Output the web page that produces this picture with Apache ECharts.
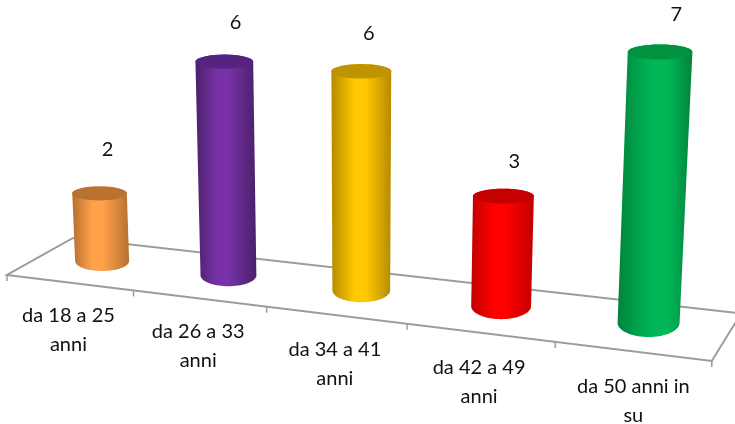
<!DOCTYPE html>
<html>
<head>
<meta charset="utf-8">
<style>html,body{margin:0;padding:0;background:#fff}#chart{width:735px;height:424px}</style>
<script src="https://cdn.jsdelivr.net/npm/echarts@6/dist/echarts.min.js"></script>
</head>
<body>
<div id="chart"></div>
<script>
// Age brackets and respondent counts
const categories = ['da 18 a 25\nanni', 'da 26 a 33\nanni', 'da 34 a 41\nanni', 'da 42 a 49\nanni', 'da 50 anni in\nsu'];
const counts = [2, 6, 6, 3, 7];

// Cylinder shading per bracket
const sideEdge = ['#B5702F', '#4B2069', '#B58A00', '#C20000', '#00843C'];
const sideMid = ['#FFA04A', '#7632A6', '#FFC800', '#FF0000', '#00B858'];
const capFill = ['#B9722F', '#562480', '#C09400', '#C40000', '#00923F'];
// Where the brightest band of each cylinder starts and ends
const glowFrom = [0.35, 0.35, 0.38, 0.35, 0.48];
const glowTo = [0.55, 0.55, 0.58, 0.55, 0.66];

const FONT = 'Lato, "Open Sans", sans-serif';
const GRID_W = 735, UNIT_PX = 36, VALUE_MAX = 8;
const labelNudgeX = [2, 3, -3, -2, 1];
const labelNudgeY = [-44, -39, -38, -35, -37];

// Floor plane: u runs along the categories (0..5), w runs front to back (0..1)
function floor(u, w) {
  const d = 1 - 0.025 * u + 0.0605 * w;
  return [(123.16 * u + 66 * w + 73 * w * 0.0605 + 7) / d, (8.18 * u - 22.6 * w + 275) / d];
}

// Flat axis height to the tilted view
function lift(px, flatHeight) {
  const perUnit = (33.3 + (px - 103) * 0.0065) * (1 + flatHeight * 0.0002);
  return flatHeight / UNIT_PX * perUnit;
}

function ellipseArc(cx, cy, rx, ry, from, to) {
  const pts = [];
  for (let i = 0; i <= 36; i++) {
    const a = from + (to - from) * i / 36;
    pts.push([cx + rx * Math.cos(a), cy + ry * Math.sin(a)]);
  }
  return pts;
}

function renderFloor(params, api) {
  const n = categories.length;
  const children = [{
    type: 'polygon', silent: true,
    shape: { points: [floor(0, 0), floor(n, 0), floor(n, 1), floor(0, 1)] },
    style: { stroke: '#9C9C9C', lineWidth: 2, fill: null }
  }];
  for (let k = 0; k <= n; k++) {
    const p = floor(k, 0);
    children.push({ type: 'line', shape: { x1: p[0], y1: p[1], x2: p[0], y2: p[1] + 6 }, style: { stroke: '#9C9C9C', lineWidth: 1.5 } });
  }
  categories.forEach(function (name, i) {
    const p = floor(i + 0.5, 0);
    children.push({
      type: 'text',
      style: {
        text: name, x: p[0] - 1 + (i === n - 1 ? 2 : 0), y: p[1] + 18.5 + i * 0.5,
        align: 'center', verticalAlign: 'top',
        font: '20px ' + FONT, lineHeight: 29, fill: '#111'
      }
    });
  });
  return { type: 'group', children: children };
}

function renderCylinder(params, api) {
  const i = api.value(0), v = api.value(1);
  const baseFlat = api.coord([i, 0]), topFlat = api.coord([i, v]);
  const u = baseFlat[0] / GRID_W * categories.length;
  const onFloor = floor(u, 0.55);
  const base = [onFloor[0] - 3, onFloor[1] - 0.5 * u];
  const h = lift(base[0], baseFlat[1] - topFlat[1]);
  const lean = (base[0] - 360) * 1.47e-4 * h;
  const topX = base[0] + lean, topY = base[1] - h;

  const rxBase = 27 + (base[0] - 103) * 0.0073;
  const rxTop = rxBase * (1 + h * 1.6e-4);
  const ryBase = 10 + (base[0] - 103) * 0.0075;
  const ryTop = 7 + (base[0] - 103) * 0.001;

  const body = ellipseArc(topX, topY, rxTop, ryTop, Math.PI, 2 * Math.PI)
    .concat(ellipseArc(base[0], base[1], rxBase, ryBase, 0, Math.PI));
  const fill = new echarts.graphic.LinearGradient(0, 0, 1, 0, [
    { offset: 0, color: sideEdge[i] },
    { offset: glowFrom[i], color: sideMid[i] },
    { offset: glowTo[i], color: sideMid[i] },
    { offset: 1, color: sideEdge[i] }
  ]);
  const labelX = topX + 6 + (base[0] - 103) * 0.017 + labelNudgeX[i];
  return {
    type: 'group',
    children: [
      { type: 'polygon', shape: { points: body }, style: { fill: fill } },
      { type: 'polygon', shape: { points: ellipseArc(topX, topY, rxTop, ryTop, 0, 2 * Math.PI) }, style: { fill: capFill[i] } },
      {
        type: 'text',
        style: {
          text: String(v), x: labelX, y: topY + labelNudgeY[i],
          align: 'center', verticalAlign: 'middle',
          font: '20px ' + FONT, fill: '#111'
        }
      }
    ]
  };
}

const chart = echarts.init(document.getElementById('chart'), null, { renderer: 'canvas' });
chart.setOption({
  animation: false,
  backgroundColor: '#fff',
  grid: { left: 0, top: 0, width: GRID_W, height: UNIT_PX * VALUE_MAX },
  xAxis: { type: 'category', data: categories, show: false },
  yAxis: { type: 'value', min: 0, max: VALUE_MAX, show: false },
  series: [
    { type: 'custom', coordinateSystem: 'cartesian2d', data: [[0, 0]], renderItem: renderFloor, silent: true, clip: false, z: 1 },
    {
      type: 'custom', coordinateSystem: 'cartesian2d',
      data: counts.map(function (c, i) { return [i, c]; }),
      encode: { x: 0, y: 1 }, renderItem: renderCylinder, clip: false, z: 2
    }
  ]
});
</script>
</body>
</html>
